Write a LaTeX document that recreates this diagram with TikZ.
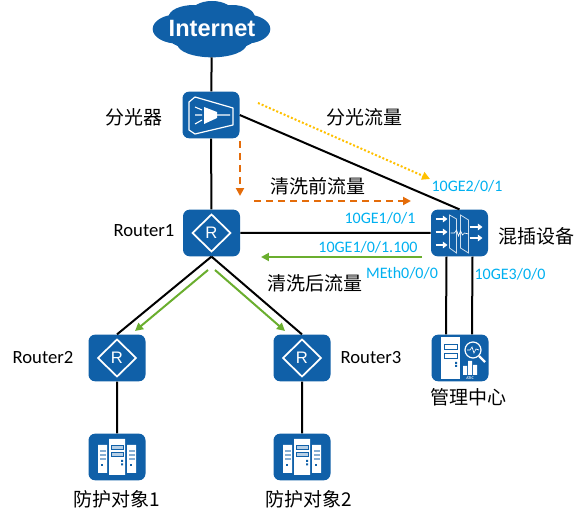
\documentclass[tikz,border=0pt]{standalone}
\usepackage{fontspec}
\setmainfont{Carlito}
\setsansfont{Liberation Sans}
\newfontfamily\cjk{Noto Sans CJK SC}
\usepackage{xcolor}
\usetikzlibrary{calc,arrows.meta,positioning}
\definecolor{mainc}{HTML}{1060A8}
\definecolor{portc}{HTML}{00B0F0}
\definecolor{greenc}{HTML}{6AAE2E}
\definecolor{orangec}{HTML}{E46C0A}
\definecolor{yellowc}{HTML}{FFC000}
\tikzset{
  dev/.style={draw=none,fill=mainc,rounded corners=5pt,minimum width=42.75pt,minimum height=35pt,inner sep=0pt},
  ln/.style={line width=1.5pt,black},
  lab/.style={font=\fontsize{14}{15}\selectfont,inner sep=0pt},
  cn/.style={font=\cjk\fontsize{14.25}{15}\selectfont,inner sep=0pt},
  port/.style={font=\fontsize{12}{13}\selectfont,text=portc,inner sep=0pt},
  gr/.style={-{Triangle[length=2.1mm,width=2.1mm]},line width=1.5pt,greenc},
  og/.style={-{Triangle[length=2.1mm,width=2.1mm]},line width=1.5pt,orangec,dash pattern=on 5.5pt off 3.5pt},
  yl/.style={-{Triangle[length=2.1mm,width=2.1mm]},line width=1.5pt,yellowc,dash pattern=on 1.5pt off 1.5pt},
  wl/.style={white,line width=.8pt},
  routerpic/.pic={
    \draw[white,line width=1.3pt] (-19,0)--(0,-18.5)--(19,0)--(0,18.5)--cycle;
    \node[text=white,font=\sffamily\fontsize{12.5}{13}\selectfont,inner sep=0pt] (-rr) at (0,0) {R};
  },
  serverpic/.pic={
    \fill[white] (-8,-18) rectangle (8,18) (-19,-12) rectangle (-10,16) (10,-12) rectangle (19,16);
    \foreach \sy in {-12,-5}{\draw[mainc,line width=.5pt,fill=white!70!mainc] (-6,\sy) rectangle (6,\sy+4);}
    \foreach \sx in {-17,12}{
      \foreach \sy in {-7,-3,1}{\fill[white!50!mainc] (\sx,\sy) rectangle (\sx+6,\sy+2);}
      \fill[mainc] (\sx+1,7) rectangle (\sx+2.5,9);
    }
    \fill[mainc] (4,3) rectangle (6,5) (4,6.5) rectangle (6,8.5);
  },
  splitpic/.pic={
    \draw[white,line width=.9pt,line join=round] (-22,-13)--(-16,-18)--(22,-7)--(22,10)--(-16,19)--(-22,15)--cycle;
    \fill[white] (-7,-8)--(-7,9)--(6,3)--(6,-3)--cycle;
    \draw[wl] (6,0)--(19,0) (-16,-8)--(-9,-5) (-16,0)--(-9,0) (-16,9)--(-9,5);
  },
  mixpic/.pic={
    \foreach \ay in {-14,-1,12}{\draw[-{Triangle[length=1.2mm,width=1.7mm]},white,line width=1.1pt] (-24,\ay)--(-12,\ay);}
    \foreach \ay in {-6,5}{\draw[-{Triangle[length=1.2mm,width=1.7mm]},white,line width=1.1pt] (10,\ay)--(23,\ay);}
    \draw[white!80!mainc,line width=.6pt] (-10,-18)--(-3,-14)--(-3,20)--(-10,15)--cycle (1,-18)--(9,-13)--(9,20)--(1,15)--cycle;
    \draw[white,line width=.5pt] (-9,0)--(-5,0)--(-3,-3)--(-1,3)--(1,-2)--(3,2)--(5,0)--(9,1);
  },
  mgmtpic/.pic={
    \fill[white] (-19,-21) rectangle (0,21);
    \foreach \sy in {-14,-5}{\draw[mainc,line width=.6pt] (-16,\sy) rectangle (-3,\sy+5);}
    \fill[mainc] (-5,4) rectangle (-3,6) (-5,7) rectangle (-3,9);
    \draw[white,line width=.9pt] (13,-8) circle [radius=6pt];
    \draw[white,line width=1.6pt] (19,-2)--(25,4);
    \draw[white,line width=.5pt] (7,-8)--(10,-8)--(12,-11)--(14,-5)--(16,-9)--(19,-8);
    \fill[white] (3,8) rectangle (7,17) (8,3) rectangle (12,17) (13,7) rectangle (17,17);
    \node[text=white,font=\bfseries\fontsize{3}{3}\selectfont,inner sep=0pt] (-at) at (10,20) {ATIC};
  }
}
\begin{document}
\begin{tikzpicture}[x=.75pt,y=-.75pt]
\useasboundingbox (0,0) rectangle (586,523);
\fill[mainc] (212,32) ellipse [x radius=36pt,y radius=15pt]
  (178,29) ellipse [x radius=19pt,y radius=11pt] (245,29) ellipse [x radius=19pt,y radius=11pt]
  (194,17) ellipse [x radius=19pt,y radius=9pt] (232,17) ellipse [x radius=17pt,y radius=9pt]
  (212,13) ellipse [x radius=16pt,y radius=9pt] (212,44) ellipse [x radius=26pt,y radius=10pt];
\node[inner sep=0pt,minimum width=87pt,minimum height=42pt,text=white,font=\sffamily\bfseries\fontsize{17.7}{18}\selectfont] (inet) at (212,29) {Internet};
\node[dev] (split) at (211,115) {};
\node[dev] (r1) at (211.5,233) {};
\node[dev] (r2) at (117,358) {};
\node[dev] (r3) at (302,358) {};
\node[dev] (mix) at (459.5,233) {};
\node[dev] (mgmt) at (460,358) {};
\node[dev] (srv1) at (117,457) {};
\node[dev] (srv2) at (302,457) {};
\pic at (split) {splitpic};
\foreach \rn in {r1,r2,r3}{\pic (\rn i) at (\rn) {routerpic};}
\foreach \sn in {srv1,srv2}{\pic at (\sn) {serverpic};}
\pic at (mix) {mixpic};
\pic (mgi) at (mgmt) {mgmtpic};
\draw[ln] (inet)--(split) (split)--(r1) (split.east)--(mix.north) (r1)--(mix);
\draw[ln] (r1.south)--(r2.north) (r1.south)--(r3.north) (r2)--(srv1) (r3)--(srv2);
\draw[ln] ([xshift=-9.75pt]mix.south)--([xshift=-10.5pt]mgmt.north);
\draw[ln] ([xshift=9.75pt]mix.south)--([xshift=9pt]mgmt.north);
\coordinate (ya) at (258,103);
\coordinate (yb) at (430,179);
\coordinate (oa) at (240,141);
\coordinate (ob) at (240,196);
\coordinate (oc) at (254,201);
\coordinate (od) at (411,201);
\coordinate (ga) at (422,257);
\coordinate (gb) at (261,257);
\coordinate (gc) at (208,270);
\coordinate (gd) at (135,331);
\coordinate (ge) at (215,270);
\coordinate (gf) at (285,331);
\draw[yl] (ya)--(yb);
\draw[og] (oa)--(ob);
\draw[og] (oc)--(od);
\draw[gr] (ga)--(gb);
\draw[gr] (gc)--(gd);
\draw[gr] (ge)--(gf);
\node[cn] (tsplit) at (134,117) {分光器};
\node[cn] (tsflow) at (364,117) {分光流量};
\node[cn] (tpre) at (318,186) {清洗前流量};
\node[cn] (tpost) at (315,283) {清洗后流量};
\node[cn] (tmix) at (536,236) {混插设备};
\node[cn] (tmgmt) at (468,397) {管理中心};
\node[cn] (tsrv1) at (117,499) {防护对象1};
\node[cn] (tsrv2) at (309,499) {防护对象2};
\node[lab] (tr1) at (144,231) {Router1};
\node[lab] (tr2) at (43,358) {Router2};
\node[lab] (tr3) at (371,358) {Router3};
\node[port] (pa) at (467,186) {10GE2/0/1};
\node[port] (pb) at (380,218) {10GE1/0/1};
\node[port] (pc) at (368,247) {10GE1/0/1.100};
\node[port] (pd) at (402,273) {MEth0/0/0};
\node[port] (pe) at (510,274) {10GE3/0/0};
\end{tikzpicture}
\end{document}
